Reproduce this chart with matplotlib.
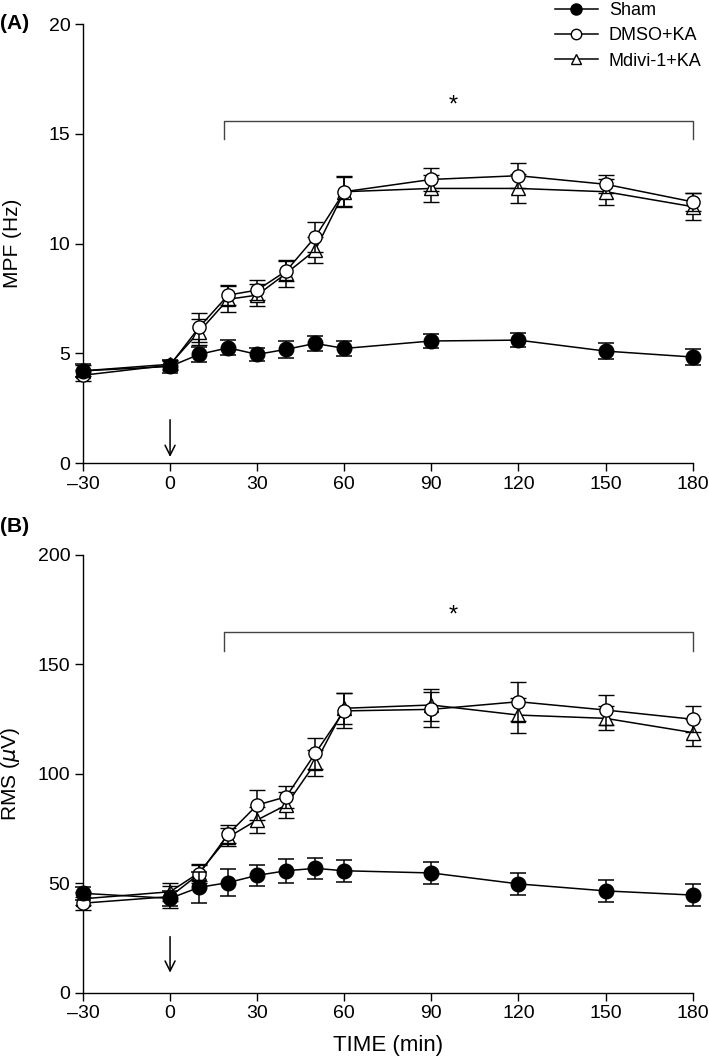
import matplotlib
matplotlib.use("Agg")
import matplotlib.pyplot as plt
from matplotlib.lines import Line2D

plt.rcParams['font.family'] = ['Liberation Sans', 'DejaVu Sans']

time = [-30, 0, 10, 20, 30, 40, 50, 60, 90, 120, 150, 180]

# Panel A: MPF (Hz)
mpf_sham = [4.2, 4.4, 4.95, 5.25, 4.95, 5.18, 5.45, 5.22, 5.56, 5.6, 5.1, 4.83]
mpf_sham_err = [0.3, 0.3, 0.35, 0.35, 0.3, 0.4, 0.35, 0.35, 0.33, 0.33, 0.38, 0.35]
mpf_dmso = [4.0, 4.46, 6.18, 7.65, 7.88, 8.75, 10.3, 12.36, 12.92, 13.09, 12.7, 11.9]
mpf_dmso_err = [0.25, 0.2, 0.65, 0.45, 0.45, 0.45, 0.7, 0.65, 0.52, 0.56, 0.4, 0.4]
mpf_mdivi = [4.2, 4.5, 5.98, 7.46, 7.65, 8.64, 9.7, 12.36, 12.51, 12.51, 12.36, 11.68]
mpf_mdivi_err = [0.25, 0.2, 0.6, 0.6, 0.5, 0.6, 0.6, 0.7, 0.6, 0.65, 0.6, 0.6]

# Panel B: RMS (uV)
rms_sham = [45.5, 43.2, 48.2, 50.4, 53.7, 55.8, 56.9, 55.8, 54.8, 49.8, 46.6, 44.7]
rms_sham_err = [3.0, 3.5, 7.0, 6.0, 4.8, 5.4, 4.8, 5.0, 5.0, 5.0, 5.0, 5.0]
rms_dmso = [41.0, 44.0, 54.3, 72.5, 85.8, 89.6, 109.4, 128.8, 129.5, 133.0, 129.2, 125.0]
rms_dmso_err = [3.0, 5.0, 4.0, 4.0, 7.0, 5.0, 7.0, 8.0, 8.0, 9.0, 7.0, 6.0]
rms_mdivi = [43.0, 46.2, 54.9, 71.1, 79.0, 85.8, 104.9, 130.0, 131.5, 126.9, 125.4, 118.9]
rms_mdivi_err = [3.0, 4.0, 4.0, 4.0, 6.0, 6.0, 6.0, 7.0, 7.5, 8.0, 5.5, 6.0]

xticks = [-30, 0, 30, 60, 90, 120, 150, 180]
series_labels = ['Sham', 'DMSO+KA', 'Mdivi-1+KA']

fig = plt.figure(figsize=(7.09, 10.63), dpi=100)
axA = fig.add_axes([0.117, 0.5644, 0.860, 0.413])
axB = fig.add_axes([0.117, 0.0659, 0.860, 0.412])


def draw(ax, sham, sham_e, dmso, dmso_e, mdivi, mdivi_e, ymax, yticks,
         ylabel, bracket_y, bracket_drop, arrow_top, arrow_bot, star_y):
    common = dict(color='black', lw=1.1, elinewidth=1.1, capsize=5.5,
                  capthick=1.1, clip_on=False)
    l3 = ax.errorbar(time, mdivi, yerr=mdivi_e, marker='^', ms=9.5,
                     mfc='white', mec='black', mew=1.0, zorder=3, **common)
    l2 = ax.errorbar(time, dmso, yerr=dmso_e, marker='o', ms=9.5,
                     mfc='white', mec='black', mew=1.0, zorder=4, **common)
    l1 = ax.errorbar(time, sham, yerr=sham_e, marker='o', ms=10.5,
                     mfc='black', mec='black', zorder=5, **common)
    for artists in (l1, l2, l3):
        for a in artists.lines[1]:
            a.set_clip_on(False)
        for a in artists.lines[2]:
            a.set_clip_on(False)
    ax.set_xlim(-30, 180)
    ax.set_ylim(0, ymax)
    ax.set_xticks(xticks)
    ax.set_xticklabels([('\u2013' + str(-t)) if t < 0 else str(t) for t in xticks])
    ax.set_yticks(yticks)
    ax.spines['top'].set_visible(False)
    ax.spines['right'].set_visible(False)
    ax.spines['left'].set_linewidth(1.0)
    ax.spines['bottom'].set_linewidth(1.0)
    ax.tick_params(direction='out', length=6, width=1.0, labelsize=14, pad=3)
    ax.set_ylabel(ylabel, fontsize=15)
    ax.yaxis.set_label_coords(-0.1, 0.5)
    # significance bracket
    ax.plot([18.5, 18.5, 180, 180],
            [bracket_y - bracket_drop, bracket_y, bracket_y, bracket_y - bracket_drop],
            color='#444444', lw=1.0, clip_on=False)
    ax.text(97.5, star_y, '*', ha='center', va='center', fontsize=17)
    # arrow
    ax.annotate('', xy=(0, arrow_bot), xytext=(0, arrow_top),
                arrowprops=dict(arrowstyle='->', lw=1.1, color='black',
                                mutation_scale=18))


draw(axA, mpf_sham, mpf_sham_err, mpf_dmso, mpf_dmso_err,
     mpf_mdivi, mpf_mdivi_err, 20, [0, 5, 10, 15, 20], 'MPF (Hz)',
     15.6, 0.85, 2.1, 0.15, 16.3)
draw(axB, rms_sham, rms_sham_err, rms_dmso, rms_dmso_err,
     rms_mdivi, rms_mdivi_err, 200, [0, 50, 100, 150, 200], r'RMS ($\mu$V)',
     165, 9, 27, 8, 172.5)

axB.set_xlabel('TIME (min)', fontsize=16, labelpad=9)

fig.text(0.0, 0.978, '(A)', fontsize=15, fontweight='bold', va='center')
fig.text(0.0, 0.505, '(B)', fontsize=15, fontweight='bold', va='center')

handles = [
    Line2D([], [], color='black', lw=1.1, marker='o', ms=8, mfc='black', mec='black'),
    Line2D([], [], color='black', lw=1.1, marker='o', ms=7.5, mfc='white', mec='black'),
    Line2D([], [], color='black', lw=1.1, marker='^', ms=7.5, mfc='white', mec='black'),
]
fig.legend(handles, series_labels,
           loc='upper right', bbox_to_anchor=(1.005, 1.008), frameon=False,
           fontsize=13, handlelength=2.4, handletextpad=0.6,
           labelspacing=0.45, borderaxespad=0.2)

fig.savefig('out.png', dpi=100)
